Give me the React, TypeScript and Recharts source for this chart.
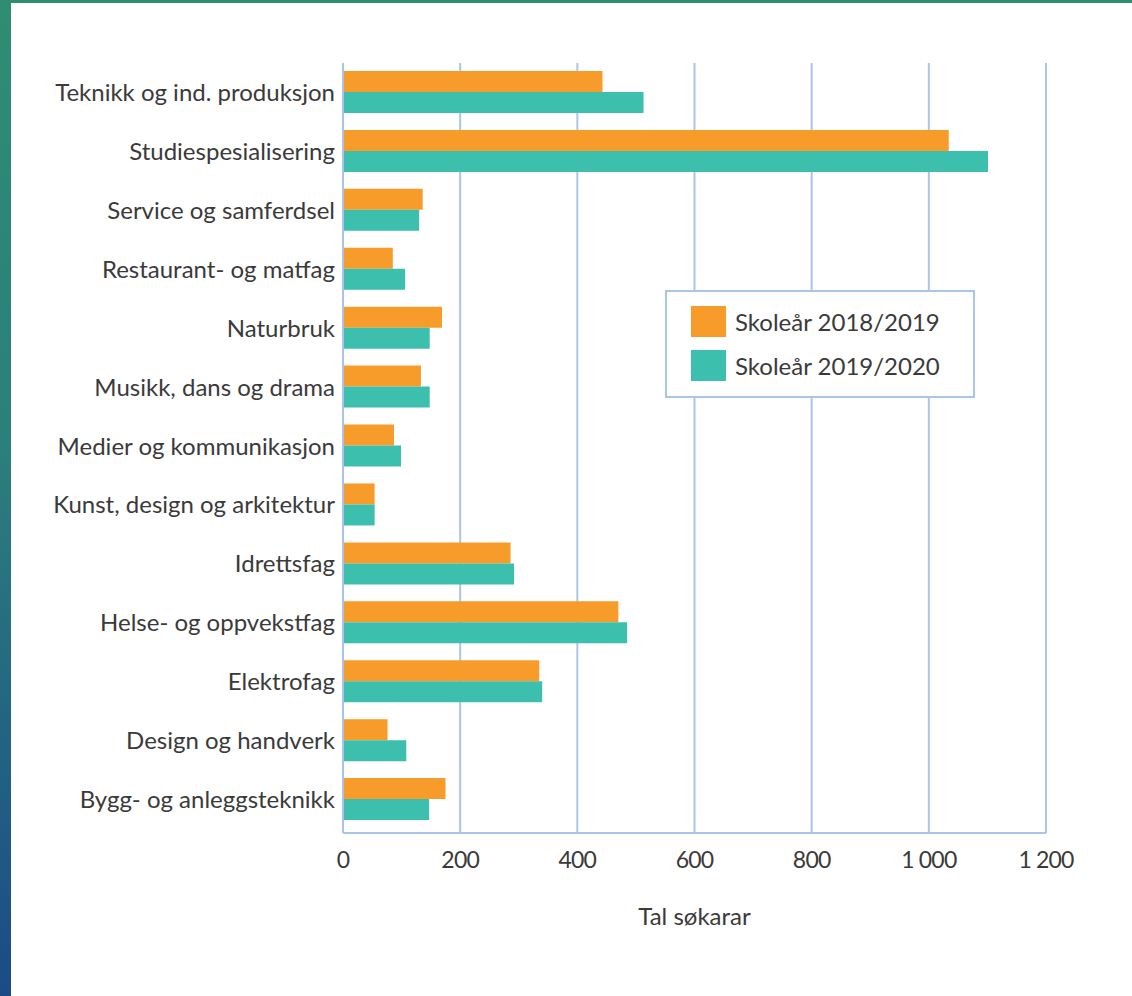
import { Bar, BarChart, CartesianGrid, Legend, XAxis, YAxis } from "recharts";

const categories = [
  "Teknikk og ind. produksjon",
  "Studiespesialisering",
  "Service og samferdsel",
  "Restaurant- og matfag",
  "Naturbruk",
  "Musikk, dans og drama",
  "Medier og kommunikasjon",
  "Kunst, design og arkitektur",
  "Idrettsfag",
  "Helse- og oppvekstfag",
  "Elektrofag",
  "Design og handverk",
  "Bygg- og anleggsteknikk",
];

const year2018 = [443, 1034, 136, 85, 169, 133, 87, 54, 286, 470, 335, 76, 175];
const year2019 = [513, 1101, 130, 106, 148, 148, 99, 54, 292, 485, 340, 108, 147];

const xTicks = [0, 200, 400, 600, 800, 1000, 1200];

const data = categories.map((name, i) => ({
  name,
  y2018: year2018[i],
  y2019: year2019[i],
}));

const font = "Lato, 'Open Sans', sans-serif";
const gridColor = "#abc5e8";
const textColor = "#3a3a3a";

// 1000 -> "1 000" (non-breaking space so the label stays in one piece)
function fmt(v: number) {
  return v >= 1000 ? `${Math.floor(v / 1000)}\u00a0${String(v % 1000).padStart(3, "0")}` : String(v);
}

function SeriesLegend({ payload }: any) {
  return (
    <div
      style={{
        width: 310,
        height: 108,
        boxSizing: "border-box",
        border: `2px solid ${gridColor}`,
        background: "#fff",
        padding: "7px 0 0 24px",
        fontFamily: font,
      }}>
      {(payload || []).map((p: any) => (
        <div key={p.value} style={{ display: "flex", alignItems: "center", height: 44 }}>
          <span style={{ width: 35, height: 31, background: p.color, marginRight: 9, display: "inline-block" }} />
          <span style={{ fontSize: 24, color: textColor }}>{p.value}</span>
        </div>
      ))}
    </div>
  );
}

export default function App() {
  return (
    <div
      style={{
        position: "absolute",
        left: 0,
        top: 0,
        width: 1132,
        height: 996,
        background: "linear-gradient(180deg, #2f8d72 0%, #2b7f7c 45%, #1b4b87 100%)",
        fontFamily: font,
      }}>
      <div style={{ position: "absolute", left: 11, top: 3, width: 1121, height: 993, background: "#fff" }}>
        <BarChart
          width={1121}
          height={993}
          data={data}
          layout="vertical"
          barSize={21}
          barGap={0}
          margin={{ top: 60, right: 86, bottom: 63, left: 0 }}>
          <CartesianGrid horizontal={false} stroke={gridColor} strokeWidth={2} />
          <XAxis
            type="number"
            domain={[0, 1200]}
            ticks={xTicks}
            tickFormatter={fmt}
            axisLine={{ stroke: gridColor, strokeWidth: 2 }}
            tickLine={false}
            tickMargin={13}
            height={100}
            tick={{ fontFamily: font, fontSize: 23, fill: textColor, letterSpacing: -0.8 }}
            label={{
              value: "Tal søkarar",
              position: "insideBottom",
              offset: 8,
              style: { fontFamily: font, fontSize: 24, fill: textColor },
            }}
          />
          <YAxis
            type="category"
            dataKey="name"
            width={332}
            padding={{ top: 0, bottom: 4 }}
            axisLine={{ stroke: gridColor, strokeWidth: 2 }}
            tickLine={false}
            interval={0}
            tick={{ fontFamily: font, fontSize: 24, fill: textColor }}
          />
          <Legend
            layout="vertical"
            align="center"
            verticalAlign="middle"
            content={<SeriesLegend />}
            wrapperStyle={{ left: 654, top: 287, width: 310, height: 108 }}
          />
          <Bar dataKey="y2018" name="Skoleår 2018/2019" fill="#f79b2a" isAnimationActive={false} />
          <Bar dataKey="y2019" name="Skoleår 2019/2020" fill="#3dbfad" isAnimationActive={false} />
        </BarChart>
      </div>
    </div>
  );
}
